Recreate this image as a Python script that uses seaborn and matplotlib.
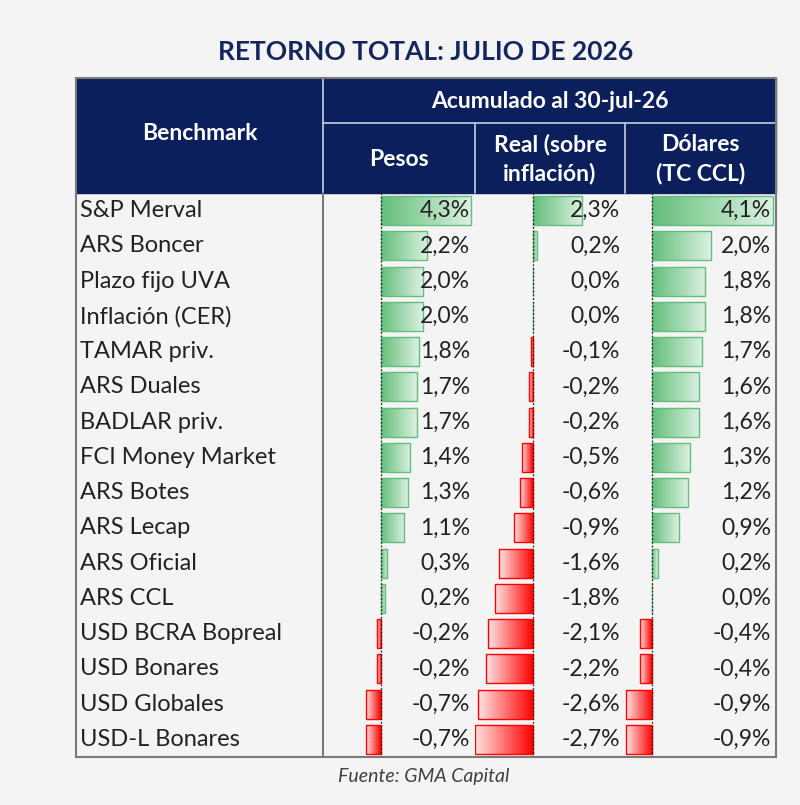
import numpy as np
import pandas as pd
import seaborn as sns
import matplotlib
matplotlib.use('Agg')
from matplotlib import pyplot as plt
from matplotlib.patches import Rectangle
from matplotlib.colors import LinearSegmentedColormap
import matplotlib.transforms as mtransforms

# Data
benchmarks = ['S&P Merval', 'ARS Boncer', 'Plazo fijo UVA', 'Inflación (CER)',
              'TAMAR priv.', 'ARS Duales', 'BADLAR priv.', 'FCI Money Market',
              'ARS Botes', 'ARS Lecap', 'ARS Oficial', 'ARS CCL',
              'USD BCRA Bopreal', 'USD Bonares', 'USD Globales', 'USD-L Bonares']
pesos = [4.3, 2.2, 2.0, 2.0, 1.8, 1.7, 1.7, 1.4, 1.3, 1.1, 0.3, 0.2, -0.2, -0.2, -0.7, -0.7]
real = [2.3, 0.2, 0.0, 0.0, -0.1, -0.2, -0.2, -0.5, -0.6, -0.9, -1.6, -1.8, -2.1, -2.2, -2.6, -2.7]
dolares = [4.1, 2.0, 1.8, 1.8, 1.7, 1.6, 1.6, 1.3, 1.2, 0.9, 0.2, 0.0, -0.4, -0.4, -0.9, -0.9]

title = 'RETORNO TOTAL: JULIO DE 2026'
header_top = 'Acumulado al 30-jul-26'
col_headers = ['Pesos', 'Real (sobre\ninflación)', 'Dólares\n(TC CCL)']
source = 'Fuente: GMA Capital'

df = pd.DataFrame({'Benchmark': benchmarks, 'Pesos': pesos,
                   'Real': real, 'Dolares': dolares})

sns.set_style('white')
plt.rcParams['font.family'] = ['Lato', 'DejaVu Sans']

W, H = 800, 805
bg = '#f4f4f4'
navy = '#0b1f5c'
green = '#63be7b'
red = '#ff0000'
txt = '#222222'

fig = plt.figure(figsize=(W / 100, H / 100), dpi=100, facecolor=bg)

# overlay axes in pixel coordinates for the table frame
frame = fig.add_axes([0, 0, 1, 1])
frame.set_xlim(0, W)
frame.set_ylim(H, 0)
frame.axis('off')
frame.patch.set_alpha(0)

left, x_b, x_p, x_r, x_d, right = 76, 323, 475, 625, 776, 776
top, mid, head_bot, bottom = 78, 123, 193, 757

frame.add_patch(Rectangle((left, top), right - left, head_bot - top, color=navy, zorder=1))
hl = '#c8cde0'
frame.plot([x_b, x_b], [top, head_bot], color=hl, lw=1.2, zorder=2)
frame.plot([x_b, right], [mid, mid], color=hl, lw=1.2, zorder=2)
frame.plot([x_p, x_p], [mid, head_bot], color=hl, lw=1.2, zorder=2)
frame.plot([x_r, x_r], [mid, head_bot], color=hl, lw=1.2, zorder=2)

hdr = dict(color='white', fontsize=16.5, fontweight='bold', ha='center', va='center',
           linespacing=1.45)
frame.text((left + x_b) / 2, 134, 'Benchmark', **hdr)
frame.text((x_b + right) / 2, 101, header_top, **hdr)
for (a, b), lab in zip([(x_b, x_p), (x_p, x_r), (x_r, x_d)], col_headers):
    frame.text((a + b) / 2, 159, lab, **hdr)

frame.text((left + right) / 2, 52, title, color='#14265e', fontsize=19,
           fontweight='bold', ha='center', va='center')
frame.text(338, 776, source, color='#404040', fontsize=14, style='italic',
           ha='left', va='center')

n = len(benchmarks)
fb = (H - bottom) / H
fh = (bottom - head_bot) / H

# benchmark names
ax_n = fig.add_axes([left / W, fb, (x_b - left) / W, fh])
ax_n.set_xlim(0, 1)
ax_n.set_ylim(n - 0.5, -0.5)
ax_n.axis('off')
for i, name in enumerate(df['Benchmark']):
    ax_n.text(0.018, i, name, fontsize=17, color=txt, ha='left', va='center')

cmap_g = LinearSegmentedColormap.from_list('g', [green, '#dcf1e2'])
cmap_r = LinearSegmentedColormap.from_list('r', ['#ffe4e4', red])
grad = np.linspace(0, 1, 256).reshape(1, -1)

cols = [('Pesos', x_b, x_p, (-2.76, 4.48)),
        ('Real', x_p, x_r, (-2.72, 4.32)),
        ('Dolares', x_r, x_d, (-0.92, 4.2))]

for col, a, b, lims in cols:
    ax = fig.add_axes([a / W, fb, (b - a) / W, fh])
    sns.barplot(data=df, x=col, y='Benchmark', orient='h', width=0.82,
                color=green, ax=ax)
    for p, v in zip(ax.patches, df[col]):
        bb = p.get_bbox()
        x0, x1 = sorted([bb.x0, bb.x1])
        y0, y1 = sorted([bb.y0, bb.y1])
        c = green if v >= 0 else red
        p.set_facecolor('none')
        p.set_edgecolor(c)
        p.set_linewidth(1.0)
        p.set_zorder(3)
        if x1 - x0 <= 0:
            continue
        im = ax.imshow(grad, cmap=cmap_g if v >= 0 else cmap_r, aspect='auto',
                       extent=(x0, x1, y1, y0), zorder=2, interpolation='bilinear')
        im.set_clip_path(p)
    ax.axvline(0, color='#222222', lw=0.9, ls=(0, (1.5, 1.5)), zorder=4)
    ax.set_xlim(*lims)
    ax.set_ylim(n - 0.5, -0.5)
    ax.axis('off')
    ax.patch.set_alpha(0)
    trans = mtransforms.blended_transform_factory(ax.transAxes, ax.transData)
    for i, v in enumerate(df[col]):
        ax.text(0.967, i, f'{v:.1f}%'.replace('.', ','), transform=trans,
                fontsize=16.5, color=txt, ha='right', va='center', zorder=5)

# borders on top
top_ax = fig.add_axes([0, 0, 1, 1])
top_ax.set_xlim(0, W)
top_ax.set_ylim(H, 0)
top_ax.axis('off')
top_ax.patch.set_alpha(0)
top_ax.add_patch(Rectangle((left, top), right - left, bottom - top, fill=False,
                           edgecolor='#7a7a7a', lw=1.5))
top_ax.plot([x_b, x_b], [head_bot, bottom], color='#7a7a7a', lw=1.5)

fig.savefig('out.png', dpi=100, facecolor=bg)
